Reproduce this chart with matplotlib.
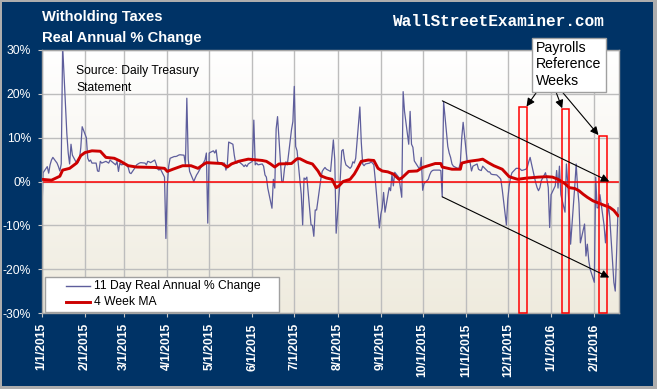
import numpy as np
import pandas as pd
import matplotlib
matplotlib.use("Agg")
import matplotlib.pyplot as plt
import matplotlib.dates as mdates
from matplotlib.patches import Rectangle
from matplotlib.lines import Line2D

plt.rcParams['font.family'] = ['Liberation Sans', 'DejaVu Sans']

# ---------------- data ----------------
# 11 day real annual % change, one value per business day
jan15 = [-8.5, 2.0, 3.4, 1.9, 3.8, 4.9, 5.5, 4.2, 3.4, 2.4, 4.0, 31.0, 11.0, 6.5, 4.0, 8.5, 6.0, 4.2, 4.3, 5.0, 7.7, 12.5]
feb15 = [10.0, 5.3, 4.6, 4.9, 4.2, 4.2, 2.4, 2.3, 4.6, 4.2, 4.6, 4.4, 4.2, 4.9, 4.6, 3.8, 4.6, 2.3, 4.2, 3.8]
mar15 = [4.0, 3.6, 3.2, 2.0, 1.8, 3.2, 3.8, 4.0, 4.2, 4.3, 4.2, 3.8, 4.6, 4.5, 4.3, 4.9, 4.0, 2.9, 2.6, 2.9, 1.0, -13.0]
apr15 = [-1.0, 3.5, 5.3, 5.7, 5.7, 5.8, 6.0, 6.1, 6.0, 3.8, 19.0, 5.0, 2.3, 0.0, 0.8, 1.5, 2.0, 2.6, 4.3, 4.9, 6.5, -9.5]
may15 = [6.5, 7.0, 6.5, 7.2, 4.6, 4.2, 4.2, 4.2, 2.6, 3.8, 9.0, 8.5, 6.0, 4.2, 4.2, 4.6, 3.8, 3.4, 3.8, 3.4, 4.0]
jun15 = [4.6, 14.0, 3.8, 4.2, 3.8, 4.0, 3.5, 1.5, 1.0, -1.5, -6.1, 0.5, -1.5, 12.0, 14.8, 0.0, 0.0, 3.0, 4.5, 3.8, 11.8, 13.7]
jul15 = [21.7, 8.0, 7.0, -3.0, -9.9, 0.8, 0.5, 1.0, -9.9, -10.0, -12.5, -6.5, -6.5, 0.5, 2.3, 2.8, 3.2, 2.8, 2.3, 6.0, 9.5, 5.0, -11.8]
aug15 = [0.9, 7.0, 7.3, 5.0, 3.8, 3.0, 3.4, 4.5, 4.2, 5.3, 17.0, 9.0, 4.0, 3.6, 4.0, 4.2, 4.5, 4.2, 3.8, 0.5, -10.6]
sep15 = [-7.5, -6.0, -2.5, -7.0, -1.4, -2.1, 1.7, -1.0, 2.1, 0.9, -1.4, -3.6, 20.5, 16.0, 8.5, 16.0, 8.5, 7.8, 4.7, 3.2, 2.8, 5.5]
oct15 = [-2.0, -0.5, 0.5, 1.5, 2.2, 2.5, 2.6, 2.6, 2.6, 2.5, -3.5, 18.2, 8.0, 6.5, 5.5, 4.0, 3.5, 3.0, 3.0, 4.3, 10.0, 13.5]
nov15 = [4.3, 4.5, 4.3, 2.4, 3.5, 4.0, 2.8, 2.6, 2.5, 3.5, 2.5, 2.2, 2.2, 1.7, 1.6, 1.5, 1.2, 0.9, 0.5, -1.8, -9.9]
dec15 = [-4.0, -1.0, 1.0, 2.0, 3.0, 3.0, 3.0, 2.8, 2.5, 2.8, 3.3, 4.5, 5.5, 4.0, -0.3, -1.4, -2.1, -1.4, 0.2, 2.0, 0.6, -1.4, -10.5]
jan16 = [-3.0, -1.0, 2.5, -1.5, 3.5, -3.0, -7.0, 4.0, -0.6, -6.0, -14.3, -1.0, 4.0, -1.4, -5.0, -14.0, -9.7, -17.0, -14.3, -18.0, -20.0]
feb16 = [-23.0, 1.0, -6.0, -6.0, -3.0, -10.0, -14.0, -10.0, -5.0, -8.0, -23.0, -25.0, -16.0, -6.0]

daily_values = (jan15 + feb15 + mar15 + apr15 + may15 + jun15 + jul15 + aug15 +
                sep15 + oct15 + nov15 + dec15 + jan16 + feb16)
daily_dates = pd.bdate_range('2015-01-01', '2016-02-18')
n = min(len(daily_dates), len(daily_values))
daily_dates = daily_dates[:n]
daily_values = daily_values[:n]

# 4 week moving average: days after 1/1/2015, value
start_date = pd.Timestamp('2015-01-01')
ma_days = [0, 7, 13, 15, 20, 25, 28, 31, 36, 42, 46, 52, 56, 62, 68, 81, 88, 90, 94, 101,
           107, 112, 116, 118, 129, 133, 136, 141, 148, 158, 161, 164, 167, 170, 179, 183,
           185, 190, 194, 198, 200, 204, 208, 211, 213, 216, 221, 224, 226, 229, 234, 238,
           241, 244, 248, 252, 256, 258, 263, 269, 273, 282, 286, 287, 294, 300, 301, 306,
           313, 316, 320, 324, 330, 335, 341, 348, 356, 362, 366, 370, 375, 378, 382, 385,
           388, 391, 395, 402, 407, 410, 413]
ma_values = [0.5, 0.3, 1.2, 2.6, 3.0, 4.2, 5.9, 6.6, 7.0, 6.9, 5.5, 5.3, 4.7, 3.6, 3.3, 3.2,
             3.0, 2.3, 2.8, 3.6, 3.6, 3.0, 3.9, 4.3, 4.1, 3.3, 4.0, 4.6, 5.1, 4.8, 4.6, 4.0,
             3.3, 4.0, 4.1, 5.2, 5.2, 4.4, 4.0, 2.4, 1.3, 0.8, 0.5, -1.4, -1.0, 0.0, 0.5, 1.7,
             2.8, 4.6, 4.9, 4.8, 3.0, 2.4, 2.2, 1.7, 0.5, 0.8, 2.3, 2.4, 3.2, 4.1, 4.1, 3.3,
             2.8, 2.8, 4.2, 4.6, 4.9, 5.1, 4.3, 3.6, 2.8, 1.1, 0.5, 0.8, 1.0, 1.1, 1.0, 0.5,
             -0.5, -1.4, -1.6, -2.1, -2.9, -3.6, -4.4, -5.3, -5.9, -6.6, -7.8]
ma_dates = start_date + pd.to_timedelta(ma_days, unit='D')

# payroll reference weeks (highlight boxes)
payroll_starts = ['2015-12-09 05:00', '2016-01-09 00:00', '2016-02-04 14:00']
payroll_width_days = 5.2
payroll_tops = [16.9, 16.5, 10.3]

# trend channel
channel_start = '2015-10-15 02:00'
channel_end = '2016-02-11 17:00'
upper_channel = [18.4, 0.0]
lower_channel = [-3.5, -21.9]

month_ticks = pd.date_range('2015-01-01', '2016-02-01', freq='MS')
month_labels = [f'{d.month}/{d.day}/{d.year}' for d in month_ticks]
y_ticks = [-30, -20, -10, 0, 10, 20, 30]
y_labels = [f'{v}%' for v in y_ticks]

title_lines = ['Witholding Taxes', 'Real Annual % Change']
series_labels = ['11 Day Real Annual % Change', '4 Week MA']
source_lines = ['Source: Daily Treasury', 'Statement']
box_lines = ['Payrolls', 'Reference', 'Weeks']

# ---------------- figure ----------------
W, H = 657, 389
NAVY = '#003366'
fig = plt.figure(figsize=(W / 100, H / 100), dpi=100, facecolor=NAVY)


def fx(x):
    return x / W


def fy(y):
    return 1 - y / H


ax = fig.add_axes([fx(41.7), fy(313), (619.3 - 41.7) / W, (313 - 50) / H])

# gradient background of plot area
grad = np.linspace(0, 1, 256).reshape(-1, 1, 1)
top_c = np.array([1.0, 1.0, 1.0])
bot_c = np.array([0.937, 0.922, 0.871])
img = top_c + (bot_c - top_c) * grad
ax.imshow(img, extent=[0, 1, 0, 1], transform=ax.transAxes, aspect='auto',
          origin='upper', zorder=0, interpolation='bilinear')

ax.plot(daily_dates, daily_values, color='#5E5E9C', lw=0.9, zorder=2)
ax.axhline(0, color='#FF0000', lw=1.1, zorder=2.5)
ax.plot(ma_dates, ma_values, color='#CC0000', lw=2.1, zorder=3,
        solid_joinstyle='round')

x_left = mdates.date2num(start_date)
ax.set_xlim(x_left, x_left + 413.9)
ax.set_ylim(-30, 30)

# payroll weeks boxes
rect_info = []
for s, top in zip(payroll_starts, payroll_tops):
    x0 = mdates.date2num(pd.Timestamp(s))
    ax.add_patch(Rectangle((x0, -30), payroll_width_days, top + 30, fill=False,
                           edgecolor='#FF0000', lw=1.1, zorder=4, clip_on=False))
    rect_info.append((x0, top))

arrow_props = dict(arrowstyle='-|>', color='black', lw=0.8,
                   mutation_scale=12, shrinkA=0, shrinkB=0)

# channel arrows
cs = mdates.date2num(pd.Timestamp(channel_start))
ce = mdates.date2num(pd.Timestamp(channel_end))
for v0, v1 in (upper_channel, lower_channel):
    ax.annotate('', xy=(ce, v1), xytext=(cs, v0), xycoords='data', textcoords='data',
                arrowprops=arrow_props, zorder=5, annotation_clip=False)

# arrows from the label box to the boxes
tails = [(536.7, 92), (556.0, 92), (562.3, 92)]
tips = [(rect_info[0][0] + payroll_width_days, rect_info[0][1] + 0.2),
        (rect_info[1][0], rect_info[1][1] + 0.2),
        (rect_info[2][0] - 0.6, rect_info[2][1] + 0.3)]
for (tx, ty), tip in zip(tails, tips):
    ax.annotate('', xy=tip, xycoords='data', xytext=(tx, H - ty),
                textcoords='figure pixels', arrowprops=arrow_props,
                zorder=5, annotation_clip=False)

# axes styling
ax.set_axisbelow(True)
ax.grid(True, color='#BDBDBD', lw=1.0)
for sp in ax.spines.values():
    sp.set_color('#A6A6A6')
    sp.set_linewidth(1.0)
ax.set_xticks(mdates.date2num(month_ticks))
ax.set_xticklabels(month_labels, rotation=90, fontweight='bold', color='white',
                   fontsize=8.7)
ax.set_yticks(y_ticks)
ax.set_yticklabels(y_labels, color='white', fontsize=8.7)
ax.tick_params(axis='both', direction='out', length=3, width=0.8, color='#C8C8C8')
ax.tick_params(axis='y', pad=4.8)
ax.tick_params(axis='x', pad=4.3)

# titles
fig.text(fx(41.7), fy(21), title_lines[0], color='white', fontweight='bold',
         fontsize=10.6, va='baseline', ha='left')
fig.text(fx(41.7), fy(41.7), title_lines[1], color='white', fontweight='bold',
         fontsize=10.6, va='baseline', ha='left')
fig.text(fx(393), fy(26), 'WallStreetExaminer.com', color='white',
         family='Liberation Mono', fontweight='bold', fontsize=11.6, va='baseline')

# source
fig.text(fx(76), fy(74), source_lines[0], fontsize=8.7, va='baseline', color='black')
fig.text(fx(76), fy(90.7), source_lines[1], fontsize=8.7, va='baseline', color='black')

# payrolls label box
fig.add_artist(Rectangle((fx(532), fy(92)), (606 - 532) / W, (92 - 38) / H,
                         transform=fig.transFigure, facecolor='white',
                         edgecolor='#A0A0A0', lw=1.0, zorder=5))
for yb, t in zip([51.7, 68.3, 85.0], box_lines):
    fig.text(fx(535.7), fy(yb), t, fontsize=10.2, va='baseline', color='black', zorder=6)

# legend (drawn manually to match the original layout)
fig.add_artist(Rectangle((fx(45), fy(312)), (279 - 45) / W, (312 - 277) / H,
                         transform=fig.transFigure, facecolor='white',
                         edgecolor='#A0A0A0', lw=1.0, zorder=5))
fig.add_artist(Line2D([fx(65.7), fx(90)], [fy(286), fy(286)], transform=fig.transFigure,
                      color='#5E5E9C', lw=1.0, zorder=6))
fig.add_artist(Line2D([fx(65.7), fx(90)], [fy(301.7), fy(301.7)], transform=fig.transFigure,
                      color='#CC0000', lw=2.1, zorder=6))
fig.text(fx(94), fy(286), series_labels[0], fontsize=8.7, va='center', zorder=6)
fig.text(fx(94), fy(301.7), series_labels[1], fontsize=8.7, va='center', zorder=6)

# outer gray frame
BORDER = '#ADADAD'
for (x0, y0, x1, y1) in [(0, 0, W, 2), (0, 386, W, H), (0, 0, 2, H), (653, 0, W, H)]:
    fig.add_artist(Rectangle((fx(x0), fy(y1)), (x1 - x0) / W, (y1 - y0) / H,
                             transform=fig.transFigure, facecolor=BORDER,
                             edgecolor='none', zorder=7))

fig.savefig('out.png', dpi=100, facecolor=NAVY)
